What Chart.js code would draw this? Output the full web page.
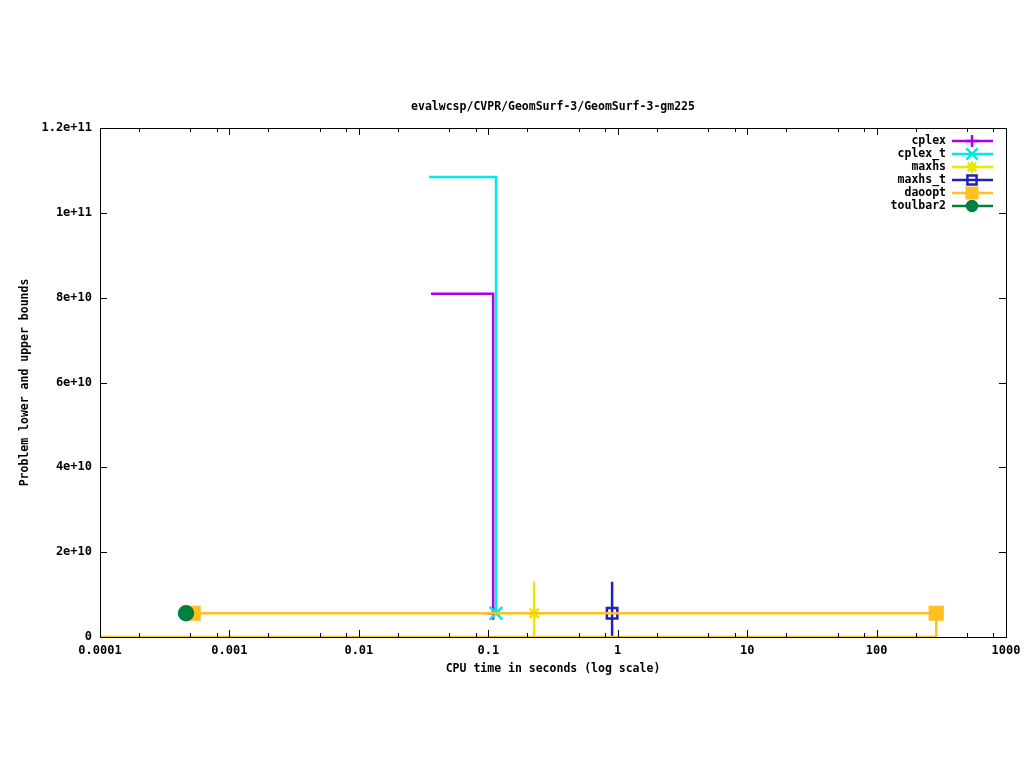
<!DOCTYPE html>
<html>
<head>
<meta charset="utf-8">
<script src="https://cdn.jsdelivr.net/npm/chart.js@4/dist/chart.umd.min.js"></script>
<style>
  html, body { margin: 0; padding: 0; background: #fff; }
  canvas { display: block; }
</style>
</head>
<body>
<canvas id="chart" width="1024" height="768"></canvas>
<script>
/* ── Data ──────────────────────────────────────────────────── */
const TITLE   = "evalwcsp/CVPR/GeomSurf-3/GeomSurf-3-gm225";
const X_TITLE = "CPU time in seconds (log scale)";
const Y_TITLE = "Problem lower and upper bounds";

const xTicks = [0.0001, 0.001, 0.01, 0.1, 1, 10, 100, 1000];
const xMinor = [2, 5, 8];
const yTicks = [0, 2e10, 4e10, 6e10, 8e10, 1e11, 1.2e11];

const names  = ["cplex", "cplex_t", "maxhs", "maxhs_t", "daoopt", "toulbar2"];
const colors = ["#aa00ee", "#00e8e8", "#e8e800", "#2020c0", "#ffc020", "#008040"];

const cplexX   = [0.0361, 0.109, 0.109];
const cplexY   = [8.09e10, 8.09e10, 5.6e9];
const cplexTX  = [0.0349, 0.1148, 0.1148];
const cplexTY  = [1.0845e11, 1.0845e11, 5.6e9];
const maxhsX   = [0.226, 0.226, 0.226];
const maxhsY   = [1.3e10, 5.6e9, 0];
const maxhsTX  = [0.905, 0.905, 0.905];
const maxhsTY  = [1.3e10, 5.6e9, 0];
const daooptX  = [0.0001, 289, 289, 0.000524];
const daooptY  = [0, 0, 5.6e9, 5.6e9];
const toulbarX = [0.000462];
const toulbarY = [5.6e9];

const FONT = "bold 11.5px 'DejaVu Sans Mono', monospace";
const TICK_FONT = { family: "'DejaVu Sans Mono', monospace", size: 12, weight: "bold" };

/* ── Helpers ───────────────────────────────────────────────── */
const pts = (xs, ys) => xs.map((x, i) => ({ x, y: ys[i] }));

const marks = [
  { style: "cross",    r: 6.5, lr: 6,   fill: colors[0] },
  { style: "crossRot", r: 9,   lr: 8,   fill: colors[1] },
  { style: "star",     r: 6.5, lr: 6,   fill: colors[2] },
  { style: "rect",     r: 7.4, lr: 6.5, fill: "rgba(0,0,0,0)" },
  { style: "rect",     r: 9,   lr: 7.5, fill: colors[4] },
  { style: "circle",   r: 7,   lr: 5,   fill: colors[5] },
];

function ds(i, data, radii) {
  return {
    label: names[i],
    data,
    showLine: true,
    borderColor: colors[i],
    borderWidth: 2.5,
    tension: 0,
    pointStyle: marks[i].style,
    pointRadius: radii,
    pointHoverRadius: radii,
    pointBorderColor: colors[i],
    pointBackgroundColor: marks[i].fill,
    pointBorderWidth: 2.5,
    order: 6 - i,
  };
}

/* ── Frame, ticks, titles, legend ──────────────────────────── */
const gnuFrame = {
  id: "gnuFrame",
  afterDraw(chart) {
    const { ctx, chartArea: a, scales } = chart;
    const sx = scales.x, sy = scales.y;
    ctx.save();
    ctx.strokeStyle = "#000";
    ctx.lineWidth = 1;
    ctx.strokeRect(a.left + 0.5, a.top + 0.5, a.right - a.left, a.bottom - a.top);

    ctx.beginPath();
    xTicks.forEach((v, k) => {
      const px = Math.round(sx.getPixelForValue(v)) + 0.5;
      ctx.moveTo(px, a.bottom); ctx.lineTo(px, a.bottom - 7);
      ctx.moveTo(px, a.top);    ctx.lineTo(px, a.top + 7);
      if (k < xTicks.length - 1) {
        xMinor.forEach(m => {
          const mx = Math.round(sx.getPixelForValue(v * m)) + 0.5;
          ctx.moveTo(mx, a.bottom); ctx.lineTo(mx, a.bottom - 4);
          ctx.moveTo(mx, a.top);    ctx.lineTo(mx, a.top + 4);
        });
      }
    });
    yTicks.forEach(v => {
      const py = Math.round(sy.getPixelForValue(v)) + 0.5;
      ctx.moveTo(a.left, py);  ctx.lineTo(a.left + 7, py);
      ctx.moveTo(a.right, py); ctx.lineTo(a.right - 7, py);
    });
    ctx.stroke();

    // titles
    ctx.fillStyle = "#000";
    ctx.font = FONT;
    ctx.textAlign = "center";
    ctx.textBaseline = "middle";
    ctx.fillText(TITLE, (a.left + a.right) / 2, 107);
    ctx.fillText(X_TITLE, (a.left + a.right) / 2, 669);
    ctx.save();
    ctx.translate(25, (a.top + a.bottom) / 2);
    ctx.rotate(-Math.PI / 2);
    ctx.fillText(Y_TITLE, 0, 0);
    ctx.restore();

    // legend (gnuplot style: text right-aligned, sample line right)
    names.forEach((n, i) => {
      const y = 141 + i * 13;
      ctx.fillStyle = "#000";
      ctx.textAlign = "right";
      ctx.fillText(n, 946, y);
      ctx.strokeStyle = colors[i];
      ctx.lineWidth = 2.5;
      ctx.beginPath();
      ctx.moveTo(952, y); ctx.lineTo(993, y);
      ctx.stroke();
      ctx.fillStyle = marks[i].fill;
      Chart.helpers.drawPoint(ctx, { pointStyle: marks[i].style, radius: marks[i].lr, rotation: 0, borderWidth: 2.5 }, 972, y);
    });
    ctx.restore();
  },
};

/* ── Chart ─────────────────────────────────────────────────── */
new Chart(document.getElementById("chart"), {
  type: "scatter",
  data: {
    datasets: [
      ds(0, pts(cplexX, cplexY),     [0, 0, 6.5]),
      ds(1, pts(cplexTX, cplexTY),   [0, 0, 9]),
      ds(2, pts(maxhsX, maxhsY),     [0, 6.5, 0]),
      ds(3, pts(maxhsTX, maxhsTY),   [0, 7.4, 0]),
      ds(4, pts(daooptX, daooptY),   [0, 0, 9, 9]),
      ds(5, pts(toulbarX, toulbarY), [7]),
    ],
  },
  options: {
    responsive: false,
    animation: false,
    devicePixelRatio: 1,
    layout: { padding: { left: 0, top: 128, right: 18, bottom: 0 } },
    plugins: {
      legend:  { display: false },
      title:   { display: false },
      tooltip: { enabled: false },
    },
    scales: {
      x: {
        type: "logarithmic",
        min: 0.0001,
        max: 1000,
        grid:   { display: false, drawTicks: false },
        border: { display: false },
        afterBuildTicks: s => { s.ticks = xTicks.map(v => ({ value: v })); },
        afterFit: s => { s.height = 131; s.paddingLeft = 0; s.paddingRight = 0; },
        ticks: {
          color: "#000",
          font: TICK_FONT,
          padding: 7,
          maxRotation: 0,
          autoSkip: false,
          callback: v => String(v),
        },
      },
      y: {
        type: "linear",
        min: 0,
        max: 1.2e11,
        grid:   { display: false, drawTicks: false },
        border: { display: false },
        afterBuildTicks: s => { s.ticks = yTicks.map(v => ({ value: v })); },
        afterFit: s => { s.width = 100; s.paddingTop = 0; s.paddingBottom = 0; },
        ticks: {
          color: "#000",
          font: TICK_FONT,
          padding: 8,
          callback: v => v === 0 ? "0" : v.toExponential(),
        },
      },
    },
  },
  plugins: [gnuFrame],
});
</script>
</body>
</html>
